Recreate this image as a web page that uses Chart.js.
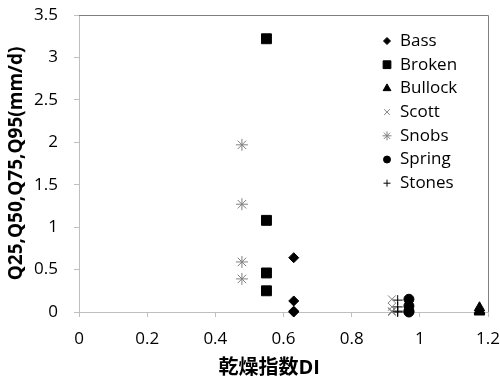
<!DOCTYPE html>
<html>
<head>
<meta charset="utf-8">
<script src="https://cdn.jsdelivr.net/npm/chart.js@4/dist/chart.umd.min.js"></script>
<style>
  html, body { margin: 0; padding: 0; background: #fff; }
  #wrap { width: 500px; height: 385px; }
</style>
</head>
<body>
<div id="wrap"><canvas id="c"></canvas></div>
<script>
// site names and their dryness index
const sites = ['Bass', 'Broken', 'Bullock', 'Scott', 'Snobs', 'Spring', 'Stones'];
const dryIndex = [0.63, 0.55, 1.175, 0.918, 0.478, 0.968, 0.935];

// Q25, Q50, Q75, Q95 flows per site (mm/d)
const bassQ = [0.64, 0.13, 0.01, 0.0];
const brokenQ = [3.22, 1.08, 0.46, 0.25];
const bullockQ = [0.05, 0.02, 0.01, 0.0];
const scottQ = [0.15, 0.06, 0.01, 0.0];
const snobsQ = [1.97, 1.27, 0.59, 0.39];
const springQ = [0.15, 0.07, 0.01, 0.0];
const stonesQ = [0.14, 0.06, 0.01, 0.0];

const xTicks = [0, 0.2, 0.4, 0.6, 0.8, 1, 1.2];
const yTicks = [0, 0.5, 1, 1.5, 2, 2.5, 3, 3.5];

const allQ = [bassQ, brokenQ, bullockQ, scottQ, snobsQ, springQ, stonesQ];

// marker look per site
const markers = [
  { pointStyle: 'rectRot', radius: 5, fill: '#000', stroke: '#000', width: 1 },
  { pointStyle: 'rect', radius: 7, fill: '#000', stroke: '#000', width: 1 },
  { pointStyle: 'triangle', radius: 6, fill: '#000', stroke: '#000', width: 1 },
  { pointStyle: 'crossRot', radius: 5.5, fill: '#808080', stroke: '#808080', width: 1 },
  { pointStyle: 'star', radius: 6, fill: '#808080', stroke: '#808080', width: 1 },
  { pointStyle: 'circle', radius: 5, fill: '#000', stroke: '#000', width: 1 },
  { pointStyle: 'cross', radius: 5, fill: '#000', stroke: '#000', width: 1 }
];

const FONT = "'Open Sans', 'Noto Sans CJK JP', sans-serif";
const X_TITLE = '乾燥指数DI';

const fmt = v => String(Number(v.toFixed(2)));

const datasets = sites.map((name, i) => ({
  label: name,
  data: allQ[i].map(q => ({ x: dryIndex[i], y: q })),
  pointStyle: markers[i].pointStyle,
  pointRadius: markers[i].radius,
  pointHoverRadius: markers[i].radius,
  backgroundColor: markers[i].fill,
  borderColor: markers[i].stroke,
  borderWidth: markers[i].width,
  clip: false
}));

// top and right border of the plot area, plus the x title (sits a bit left of centre)
const frame = {
  id: 'frame',
  afterDraw(chart) {
    const { ctx, chartArea: a } = chart;
    ctx.save();
    ctx.strokeStyle = '#7f7f7f';
    ctx.lineWidth = 1;
    ctx.beginPath();
    ctx.moveTo(a.left, a.top + 0.5);
    ctx.lineTo(a.right + 0.5, a.top + 0.5);
    ctx.lineTo(a.right + 0.5, a.bottom);
    ctx.stroke();

    ctx.fillStyle = '#000';
    ctx.font = 'bold 20px ' + FONT;
    ctx.textAlign = 'center';
    ctx.textBaseline = 'middle';
    ctx.fillText(X_TITLE, a.left + a.width * 0.465, a.bottom + 56);
    ctx.restore();
  }
};

// vertical legend inside the plot, top right
const sideLegend = {
  id: 'sideLegend',
  afterDraw(chart) {
    const { ctx, chartArea: a } = chart;
    const x0 = a.right - 101;
    const y0 = a.top + 26;
    ctx.save();
    chart.data.datasets.forEach((ds, i) => {
      const y = y0 + i * 23.7;
      ctx.fillStyle = ds.backgroundColor;
      ctx.strokeStyle = ds.borderColor;
      ctx.lineWidth = ds.borderWidth;
      Chart.helpers.drawPoint(ctx, {
        pointStyle: ds.pointStyle,
        radius: Math.max(ds.pointRadius - 1.5, 3.5),
        borderWidth: ds.borderWidth,
        rotation: 0
      }, x0, y);
      ctx.fillStyle = '#000';
      ctx.font = '17px ' + FONT;
      ctx.textBaseline = 'middle';
      ctx.textAlign = 'left';
      ctx.fillText(ds.label, x0 + 13, y);
    });
    ctx.restore();
  }
};

new Chart(document.getElementById('c'), {
  type: 'scatter',
  data: { datasets },
  options: {
    responsive: true,
    maintainAspectRatio: false,
    animation: false,
    layout: { padding: { top: 15, right: 12, left: 0, bottom: 0 } },
    plugins: {
      legend: { display: false },
      tooltip: { enabled: false }
    },
    scales: {
      x: {
        type: 'linear',
        min: 0,
        max: 1.2,
        afterBuildTicks: s => { s.ticks = xTicks.map(v => ({ value: v })); },
        afterFit: s => {
          s.height = 73;
          s.paddingLeft = 0;
          s.paddingRight = 0;
        },
        grid: { drawOnChartArea: false, color: '#bfbfbf', tickLength: 5 },
        border: { color: '#bfbfbf' },
        ticks: { color: '#000', font: { size: 17, family: FONT }, padding: 12, maxRotation: 0, callback: fmt }
      },
      y: {
        type: 'linear',
        min: 0,
        max: 3.5,
        afterBuildTicks: s => { s.ticks = yTicks.map(v => ({ value: v })); },
        afterFit: s => {
          s.width = 79;
          s.paddingTop = 0;
          s.paddingBottom = 0;
        },
        grid: { drawOnChartArea: false, color: '#bfbfbf', tickLength: 5 },
        border: { color: '#bfbfbf' },
        ticks: { color: '#000', font: { size: 17, family: FONT }, padding: 16, callback: fmt },
        title: {
          display: true,
          text: 'Q25,Q50,Q75,Q95(mm/d)',
          color: '#000',
          font: { size: 19, weight: 'bold', family: FONT },
          padding: { top: 5, bottom: 0 }
        }
      }
    }
  },
  plugins: [frame, sideLegend]
});
</script>
</body>
</html>
